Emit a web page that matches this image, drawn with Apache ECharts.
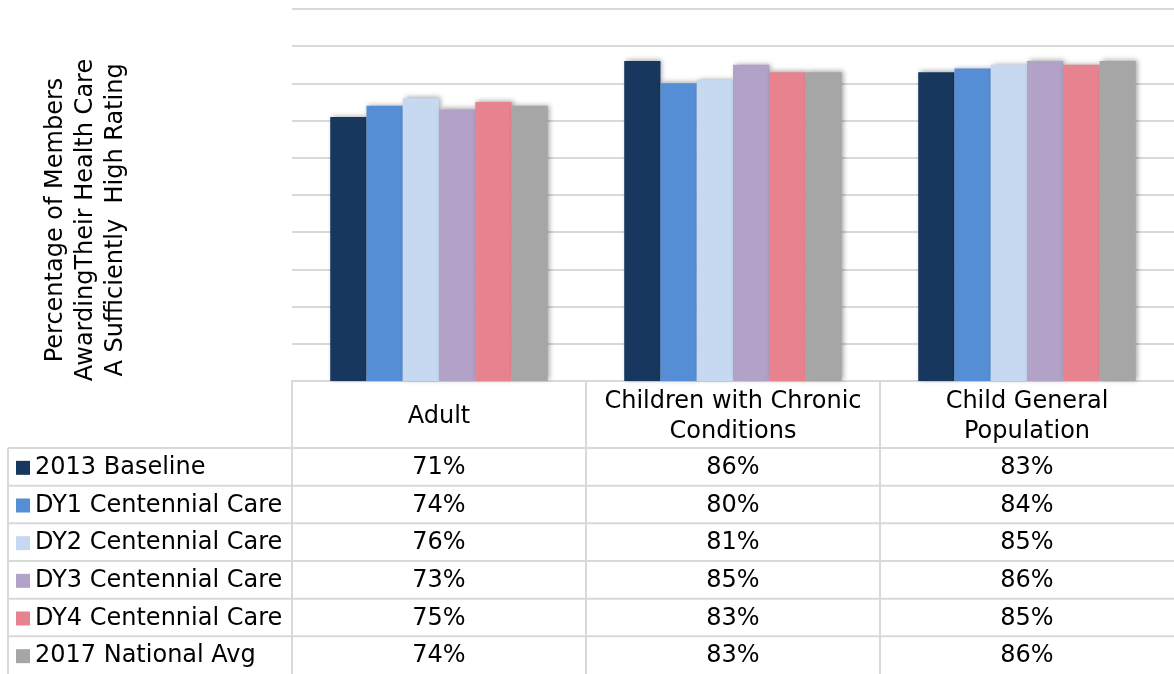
<!DOCTYPE html>
<html><head><meta charset="utf-8">
<script src="https://cdn.jsdelivr.net/npm/echarts@6/dist/echarts.min.js"></script>
<style>html,body{margin:0;padding:0;background:#fff}#c{width:1174px;height:674px}</style>
</head><body><div id="c"></div>
<script>
const categories = ['Adult', 'Children with Chronic\nConditions', 'Child General\nPopulation'];
const seriesNames = ['2013 Baseline', 'DY1 Centennial Care', 'DY2 Centennial Care', 'DY3 Centennial Care', 'DY4 Centennial Care', '2017 National Avg'];
const baseline2013 = [71, 86, 83];
const dy1 = [74, 80, 84];
const dy2 = [76, 81, 85];
const dy3 = [73, 85, 86];
const dy4 = [75, 83, 85];
const national2017 = [74, 83, 86];
const seriesValues = [baseline2013, dy1, dy2, dy3, dy4, national2017];
const colors = ['#17375e', '#558ed5', '#c6d9f1', '#b3a2c7', '#e6838f', '#a6a6a6'];
const yTitle = 'Percentage of Members\nAwardingTheir Health Care\nA Sufficiently  High Rating';

const FONT = '"DejaVu Sans", Verdana, sans-serif';
const FS = 24;
const GRID = {left: 292, right: 0, top: 9, height: 372};
const chart = echarts.init(document.getElementById('c'));

const option = {
  animation: false,
  backgroundColor: '#fff',
  grid: GRID,
  xAxis: {
    type: 'category', data: categories,
    axisLine: {show: true, lineStyle: {color: '#d9d9d9', width: 2}},
    axisTick: {show: false}, axisLabel: {show: false}
  },
  yAxis: {
    type: 'value', min: 0, max: 100, interval: 10,
    axisLabel: {show: false}, axisLine: {show: false}, axisTick: {show: false},
    splitLine: {lineStyle: {color: '#d9d9d9', width: 2}}
  },
  series: seriesNames.map((n, i) => ({
    name: n, type: 'bar', data: seriesValues[i],
    barGap: '0%', barCategoryGap: '26%',
    itemStyle: {color: colors[i], shadowColor: 'rgba(0,0,0,0.35)', shadowBlur: 5, shadowOffsetX: 2, shadowOffsetY: -1}
  }))
};
chart.setOption(option);

// table below the plot
const W = 1174, H = 674;
const tableTop = GRID.top + GRID.height;
const headerBottom = 448;
const rowH = (H - headerBottom) / seriesNames.length;
const leftX = 8;
const plotLeft = GRID.left;
const catW = (W - GRID.left - GRID.right) / categories.length;
const line = (x1, y1, x2, y2) => ({type: 'line', silent: true, shape: {x1, y1, x2, y2}, style: {stroke: '#d9d9d9', lineWidth: 2}});
const txt = (t, x, y, align, extra) => Object.assign({type: 'text', x, y, silent: true, style: {text: t, fill: '#000', fontSize: FS, fontFamily: FONT, align: align, verticalAlign: 'middle', lineHeight: 30}}, extra || {});
const g = [];
// vertical lines
for (let c = 0; c < categories.length; c++) {
  const x = plotLeft + c * catW;
  g.push(line(x, tableTop, x, H));
}
g.push(line(leftX, headerBottom, leftX, H));
// horizontal lines
for (let r = 0; r < seriesNames.length; r++) {
  const y = headerBottom + r * rowH;
  g.push(line(leftX, y, W, y));
}
// header texts
categories.forEach((c, i) => {
  const cx = chart.convertToPixel({xAxisIndex: 0}, i);
  g.push(txt(c, cx, (tableTop + headerBottom) / 2 + 2, 'center'));
});
// rows
seriesNames.forEach((n, r) => {
  const cy = headerBottom + r * rowH + rowH / 2 + 1;
  g.push({type: 'rect', silent: true, shape: {x: 16, y: cy - 7, width: 14, height: 14}, style: {fill: colors[r]}});
  g.push(txt(n, 35, cy, 'left'));
  seriesValues[r].forEach((v, i) => {
    const cx = chart.convertToPixel({xAxisIndex: 0}, i);
    g.push(txt(v + '%', cx, cy, 'center'));
  });
});
// y-axis title
g.push(txt(yTitle, 86, 220, 'center', {rotation: Math.PI / 2}));
chart.setOption({graphic: g});
</script></body></html>
